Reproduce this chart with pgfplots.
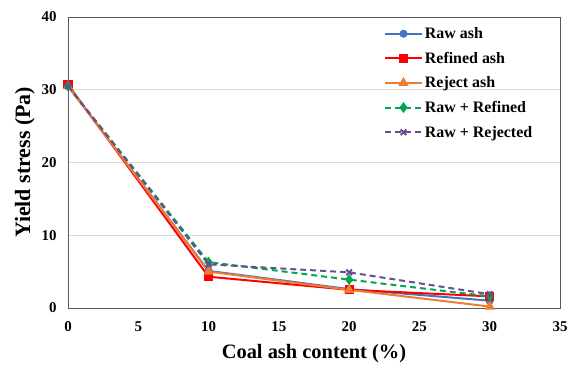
\documentclass[border=0pt]{standalone}
\usepackage{fontspec}
\setmainfont{Liberation Serif}
\usepackage{pgfplots}
\pgfplotsset{compat=1.18}
\definecolor{rawblue}{HTML}{4472C4}
\definecolor{refred}{HTML}{FF0000}
\definecolor{rejorange}{HTML}{ED7D31}
\definecolor{mixgreen}{HTML}{00A651}
\definecolor{mixpurple}{HTML}{6A4C93}
\begin{document}
\begin{tikzpicture}
\begin{axis}[
  scale only axis,
  width=492bp, height=291bp,
  xmin=0, xmax=35, ymin=0, ymax=40,
  xtick={0,5,...,35}, ytick={0,10,20,30,40},
  major tick length=0pt,
  ymajorgrids, grid style={draw=black!15, line width=0.8pt},
  axis line style={draw=black!65, line width=1pt},
  tick label style={font=\fontsize{15}{17}\selectfont\bfseries},
  /pgf/number format/assume math mode=true,
  xticklabel style={yshift=-10bp},
  yticklabel style={xshift=-8bp},
  xlabel={Coal ash content (\%)},
  ylabel={Yield stress (Pa)},
  xlabel style={font=\fontsize{20.5}{22}\selectfont\bfseries, yshift=-6bp},
  ylabel style={font=\fontsize{22}{24}\selectfont\bfseries, yshift=0bp},
  clip=false,
  legend style={at={(rel axis cs:0.64,0.975)}, anchor=north west, draw=none, fill=none,
    font=\fontsize{16}{18}\selectfont\bfseries, row sep=8bp, inner sep=1bp},
  legend cell align=left,
  legend image code/.code={\draw[mark repeat=2,mark phase=2,#1] plot coordinates {(0cm,0cm) (0.65cm,0cm) (1.3cm,0cm)};},
]
\addplot[rawblue, line width=2pt, mark=*, mark size=3pt] coordinates {(0,30.5) (10,5.1) (20,2.6) (30,1.0)};
\addlegendentry{Raw ash}
\addplot[refred, line width=2pt, mark=square*, mark size=3.6pt] coordinates {(0,30.7) (10,4.3) (20,2.5) (30,1.6)};
\addlegendentry{Refined ash}
\addplot[rejorange, line width=2pt, mark=triangle*, mark size=4pt] coordinates {(0,30.5) (10,5.0) (20,2.5) (30,0.2)};
\addlegendentry{Reject ash}
\addplot[mixgreen, line width=2pt, dash pattern=on 6pt off 4pt, mark=diamond*, mark size=3.8pt, mark options={solid}] coordinates {(0,30.5) (10,6.3) (20,3.9) (30,1.6)};
\addlegendentry{Raw + Refined}
\addplot[mixpurple, line width=2pt, dash pattern=on 6pt off 4pt, mark=x, mark size=4pt, mark options={solid}] coordinates {(0,30.5) (10,6.0) (20,4.9) (30,1.9)};
\addlegendentry{Raw + Rejected}
\end{axis}
\path (-68bp,-67bp) rectangle (515bp,308bp);
\end{tikzpicture}
\end{document}
